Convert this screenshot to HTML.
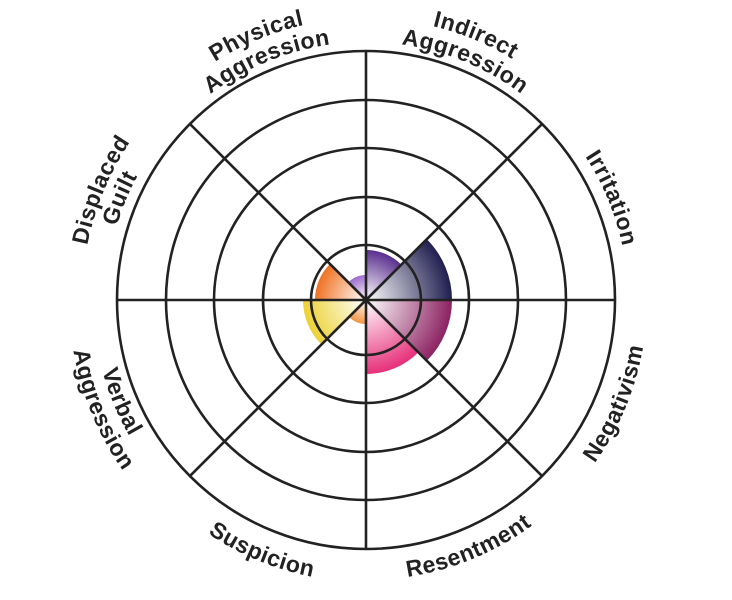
<!DOCTYPE html>
<html><head><meta charset="utf-8"><style>
html,body{margin:0;padding:0;background:#fff}
svg{display:block}
text{font-family:"Liberation Sans",sans-serif;font-weight:bold;font-size:23px;letter-spacing:0.5px;fill:#222}
</style></head><body>
<svg width="732" height="600" viewBox="0 0 732 600" xmlns="http://www.w3.org/2000/svg">
<defs>
<radialGradient id="gP" gradientUnits="userSpaceOnUse" cx="366" cy="300" r="50"><stop offset="0" stop-color="#fff"/><stop offset="1" stop-color="#5a2f8f"/></radialGradient>
<radialGradient id="gN" gradientUnits="userSpaceOnUse" cx="366" cy="300" r="86"><stop offset="0" stop-color="#fff"/><stop offset="1" stop-color="#201e50"/></radialGradient>
<radialGradient id="gM" gradientUnits="userSpaceOnUse" cx="366" cy="300" r="86"><stop offset="0" stop-color="#fff"/><stop offset="1" stop-color="#8c2262"/></radialGradient>
<radialGradient id="gK" gradientUnits="userSpaceOnUse" cx="366" cy="300" r="74"><stop offset="0" stop-color="#fff"/><stop offset="1" stop-color="#e6307a"/></radialGradient>
<radialGradient id="gS" gradientUnits="userSpaceOnUse" cx="366" cy="300" r="24"><stop offset="0" stop-color="#fff"/><stop offset="1" stop-color="#f29544"/></radialGradient>
<radialGradient id="gY" gradientUnits="userSpaceOnUse" cx="366" cy="300" r="63"><stop offset="0" stop-color="#fff"/><stop offset="1" stop-color="#ecd235"/></radialGradient>
<radialGradient id="gO" gradientUnits="userSpaceOnUse" cx="366" cy="300" r="51"><stop offset="0" stop-color="#fff"/><stop offset="1" stop-color="#ee7222"/></radialGradient>
<radialGradient id="gL" gradientUnits="userSpaceOnUse" cx="366" cy="300" r="25"><stop offset="0" stop-color="#fff"/><stop offset="1" stop-color="#9e6ccc"/></radialGradient>
</defs>
<g id="wedges"></g>
<g fill="none" stroke="#222" stroke-width="2.6">
<circle cx="366" cy="300" r="55"/><circle cx="366" cy="300" r="103"/><circle cx="366" cy="300" r="152"/><circle cx="366" cy="300" r="200"/><circle cx="366" cy="300" r="249"/>
<line x1="117" y1="300" x2="615" y2="300"/><line x1="366" y1="51" x2="366" y2="549"/>
<line x1="189.9" y1="123.9" x2="542.1" y2="476.1"/><line x1="542.1" y1="123.9" x2="189.9" y2="476.1"/>
</g>
<g id="labels"></g>
<script>
var cx=366,cy=300,NS="http://www.w3.org/2000/svg";
function P(a,r){a=a*Math.PI/180;return [cx+r*Math.cos(a),cy-r*Math.sin(a)];}
var W=[[45,90,50,"gP"],[0,45,86,"gN"],[-45,0,86,"gM"],[-90,-45,74,"gK"],[-135,-90,24,"gS"],[-180,-135,63,"gY"],[135,180,51,"gO"],[90,135,25,"gL"]];
var wg=document.getElementById("wedges");
W.forEach(function(w){var a=P(w[1],w[2]),b=P(w[0],w[2]);var p=document.createElementNS(NS,"path");
p.setAttribute("d","M"+cx+","+cy+"L"+a[0]+","+a[1]+"A"+w[2]+","+w[2]+" 0 0 1 "+b[0]+","+b[1]+"Z");p.setAttribute("fill","url(#"+w[3]+")");wg.appendChild(p);});
var L=[[112.5,282,"Physical",1],[112.5,258,"Aggression",1],[67.5,282,"Indirect",1],[67.5,258,"Aggression",1],
[22.5,262,"Irritation",1],[157.5,284,"Displaced",1],[157.5,260,"Guilt",1],
[-22.5,281,"Negativism",0],[-67.5,280,"Resentment",0],[-112.5,282,"Suspicion",0],[-157.5,273,"Verbal",0],[-157.5,297,"Aggression",0]];
var lg=document.getElementById("labels");
L.forEach(function(l,i){var r=l[1],s,e,d;
if(l[3]){s=P(l[0]+70,r);e=P(l[0]-70,r);d="M"+s+"A"+r+","+r+" 0 0 1 "+e;}
else{s=P(l[0]-70,r);e=P(l[0]+70,r);d="M"+s+"A"+r+","+r+" 0 0 0 "+e;}
var p=document.createElementNS(NS,"path");p.setAttribute("id","p"+i);p.setAttribute("d",d);p.setAttribute("fill","none");lg.appendChild(p);
var t=document.createElementNS(NS,"text");t.setAttribute("text-anchor","middle");var tp=document.createElementNS(NS,"textPath");
tp.setAttribute("href","#p"+i);tp.setAttribute("startOffset","50%");tp.textContent=l[2];t.appendChild(tp);lg.appendChild(t);});
</script>
</svg>
</body></html>
